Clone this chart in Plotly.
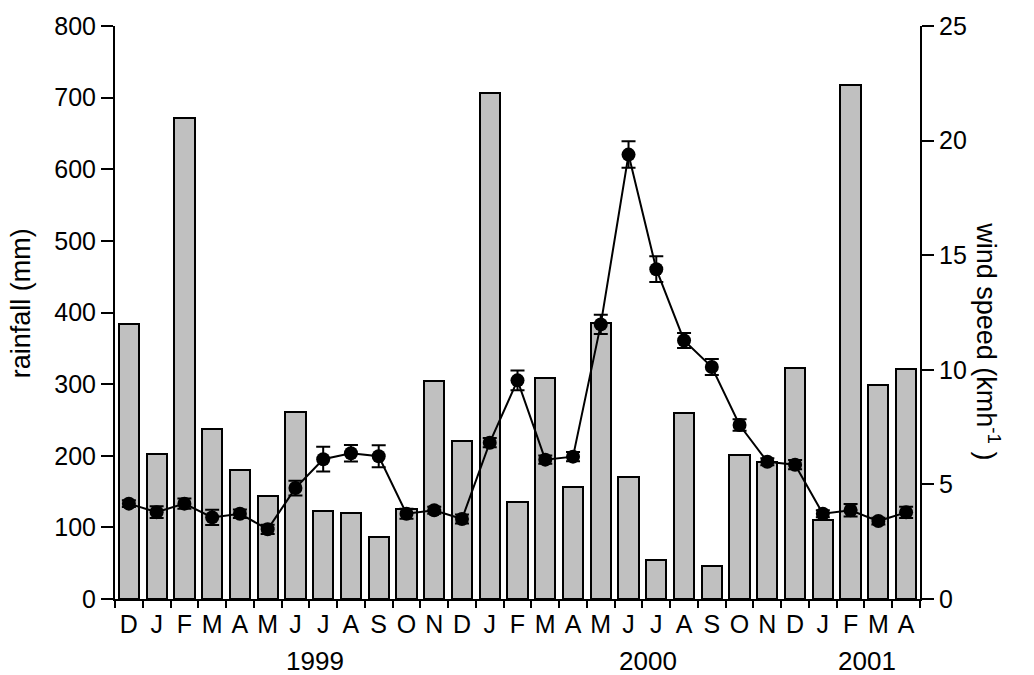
import plotly.graph_objects as go

# Monthly record, Dec 1998 - Apr 2001
months = ["D", "J", "F", "M", "A", "M", "J", "J", "A", "S", "O", "N",
          "D", "J", "F", "M", "A", "M", "J", "J", "A", "S", "O", "N",
          "D", "J", "F", "M", "A"]

rainfall_mm = [384, 203, 671, 238, 180, 144, 261, 123, 120, 86, 125, 304,
               220, 706, 135, 309, 156, 386, 170, 55, 259, 46, 201, 191,
               322, 111, 718, 299, 321]

wind_speed = [4.16, 3.79, 4.16, 3.56, 3.72, 3.04, 4.84, 6.10, 6.36, 6.23, 3.72, 3.87,
              3.49, 6.82, 9.54, 6.08, 6.21, 11.98, 19.39, 14.39, 11.28, 10.12, 7.59, 5.99,
              5.86, 3.72, 3.87, 3.40, 3.78]

wind_err = [0.15, 0.26, 0.22, 0.33, 0.19, 0.20, 0.32, 0.54, 0.36, 0.48, 0.22, 0.15,
            0.20, 0.20, 0.43, 0.18, 0.20, 0.42, 0.58, 0.56, 0.33, 0.35, 0.25, 0.15,
            0.20, 0.15, 0.27, 0.15, 0.25]

years = ["1999", "2000", "2001"]
year_pos = [6.7, 18.7, 26.6]

FONT = "Liberation Sans, Arial, Helvetica, sans-serif"
FS = 25        # tick labels
FS_TITLE = 27  # axis titles
FS_YEAR = 26   # year labels

x = list(range(len(months)))

fig = go.Figure()

fig.add_trace(go.Bar(
    x=x, y=rainfall_mm, width=0.73,
    marker=dict(color="#c0c0c0", line=dict(color="black", width=2)),
    yaxis="y", showlegend=False,
))

fig.add_trace(go.Scatter(
    x=x, y=wind_speed, yaxis="y2", mode="lines+markers",
    line=dict(color="black", width=2),
    marker=dict(color="black", size=14),
    error_y=dict(type="data", array=wind_err, visible=True,
                 color="black", thickness=2, width=7),
    showlegend=False,
))

boundaries = [i - 0.5 for i in range(len(months) + 1)]

fig.update_layout(
    width=1034, height=675,
    margin=dict(l=115, r=114, t=23, b=76),
    paper_bgcolor="white", plot_bgcolor="white",
    font=dict(family=FONT, size=FS, color="black"),
    bargap=0,
    xaxis=dict(
        range=[-0.5, len(months) - 0.5],
        tickmode="array", tickvals=x, ticktext=months,
        ticks="", ticklabelstandoff=2,
        showline=True, linecolor="black", linewidth=2,
        showgrid=False, zeroline=False,
        minor=dict(tickmode="array", tickvals=boundaries, ticks="outside",
                   ticklen=7, tickwidth=2, tickcolor="black", showgrid=False),
        tickfont=dict(size=FS),
    ),
    yaxis=dict(
        range=[0, 800], tickmode="array", tickvals=list(range(0, 801, 100)),
        ticks="outside", ticklen=12, tickwidth=2, tickcolor="black",
        showline=True, linecolor="black", linewidth=2,
        showgrid=False, zeroline=False,
        tickfont=dict(size=FS),
    ),
    yaxis2=dict(
        range=[0, 25], overlaying="y", side="right",
        tickmode="array", tickvals=[0, 5, 10, 15, 20, 25],
        ticks="outside", ticklen=12, tickwidth=2, tickcolor="black",
        showline=True, linecolor="black", linewidth=2,
        showgrid=False, zeroline=False,
        tickfont=dict(size=FS),
    ),
)

annotations = [
    dict(text="rainfall (mm)", xref="paper", yref="paper", x=0, y=0.516,
         xshift=-94, xanchor="center", yanchor="middle", textangle=-90,
         showarrow=False, font=dict(size=FS_TITLE)),
    dict(text="wind speed (kmh<sup>-1</sup> )", xref="paper", yref="paper", x=1, y=0.45,
         xshift=68, xanchor="center", yanchor="middle", textangle=90,
         showarrow=False, font=dict(size=FS_TITLE)),
]
for label, pos in zip(years, year_pos):
    annotations.append(dict(text=label, xref="x", yref="paper", x=pos, y=0,
                            yshift=-62, xanchor="center", yanchor="middle",
                            showarrow=False, font=dict(size=FS_YEAR)))
fig.update_layout(annotations=annotations)

fig.write_html("out.html")
